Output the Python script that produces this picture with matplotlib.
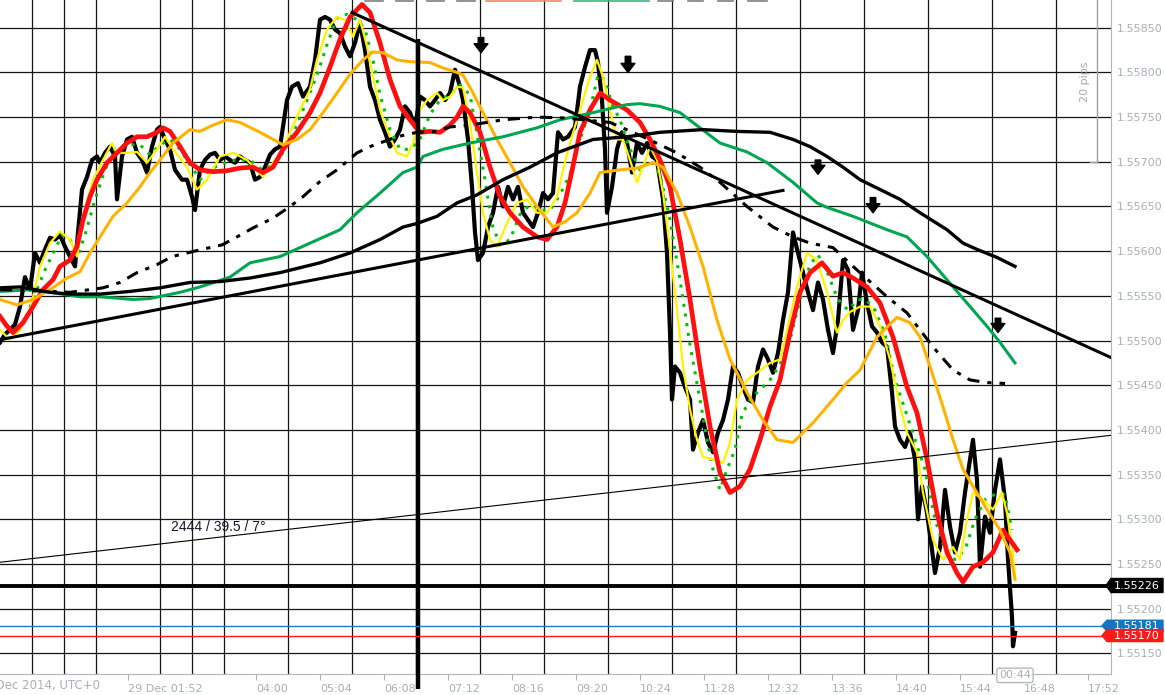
import numpy as np
import matplotlib
matplotlib.use("Agg")
import matplotlib.pyplot as plt
from matplotlib.patches import Polygon
from matplotlib.transforms import IdentityTransform

# time axis: minutes after 28 Dec 2014 23:44 (UTC+0)
close_pts = [(0,1.55498),(5,1.55507),(10,1.55512),(15,1.55518),(20,1.55538),(25,1.55571),(30,1.55557),(35,1.55598),(40,1.55587),(45,1.55602),(50,1.55615),(55,1.55613),(60,1.55618),(65,1.55605),(70,1.55594),(75,1.55583),(78,1.55621),(82,1.55669),(87,1.55683),(92,1.55702),(97,1.55706),(100,1.55699),(105,1.55710),(110,1.55717),(115,1.55706),(117,1.55658),(122,1.55706),(127,1.55725),(132,1.55728),(137,1.55710),(142,1.55702),(147,1.55688),(152,1.55717),(157,1.55736),(160,1.55739),(165,1.55725),(170,1.55714),(175,1.55691),(182,1.55680),(187,1.55680),(192,1.55661),(195,1.55646),(200,1.55691),(205,1.55702),(210,1.55708),(215,1.55710),(220,1.55702),(225,1.55706),(230,1.55702),(235,1.55699),(240,1.55706),(245,1.55702),(250,1.55699),(255,1.55680),(260,1.55683),(265,1.55694),(270,1.55708),(275,1.55714),(280,1.55717),(287,1.55769),(292,1.55784),(298,1.55788),(303,1.55773),(310,1.55784),(315,1.55814),(320,1.55859),(325,1.55862),(330,1.55859),(335,1.55848),(340,1.55844),(345,1.55829),(350,1.55818),(355,1.55833),(360,1.55856),(365,1.55825),(370,1.55784),(375,1.55769),(380,1.55747),(385,1.55733),(390,1.55717),(395,1.55725),(400,1.55736),(405,1.55762),(410,1.55755),(415,1.55739),(420,1.55773),(425,1.55769),(430,1.55762),(435,1.55769),(440,1.55777),(445,1.55769),(450,1.55777),(455,1.55803),(460,1.55784),(463,1.55769),(468,1.55725),(472,1.55672),(475,1.55621),(478,1.55590),(483,1.55598),(488,1.55627),(493,1.55643),(498,1.55672),(503,1.55650),(508,1.55672),(513,1.55658),(518,1.55672),(523,1.55643),(528,1.55635),(533,1.55627),(538,1.55643),(543,1.55665),(548,1.55658),(553,1.55665),(558,1.55733),(563,1.55725),(568,1.55728),(575,1.55739),(580,1.55784),(585,1.55806),(590,1.55825),(595,1.55825),(598,1.55811),(602,1.55769),(605,1.55714),(607,1.55643),(612,1.55672),(617,1.55714),(622,1.55733),(627,1.55721),(632,1.55688),(637,1.55721),(642,1.55710),(647,1.55721),(652,1.55706),(657,1.55702),(660,1.55680),(663,1.55658),(667,1.55598),(670,1.55509),(672,1.55434),(675,1.55471),(680,1.55464),(685,1.55448),(690,1.55434),(693,1.55378),(698,1.55397),(703,1.55411),(708,1.55386),(713,1.55375),(718,1.55397),(723,1.55411),(728,1.55434),(733,1.55471),(738,1.55464),(743,1.55448),(748,1.55434),(753,1.55431),(758,1.55471),(763,1.55490),(768,1.55479),(773,1.55464),(778,1.55486),(783,1.55523),(788,1.55554),(793,1.55621),(798,1.55598),(803,1.55576),(808,1.55554),(813,1.55534),(818,1.55565),(823,1.55546),(828,1.55512),(833,1.55486),(838,1.55523),(843,1.55590),(848,1.55579),(853,1.55512),(858,1.55534),(862,1.55576),(867,1.55542),(872,1.55516),(877,1.55509),(882,1.55498),(887,1.55493),(892,1.55442),(895,1.55404),(900,1.55389),(905,1.55381),(910,1.55397),(915,1.55367),(918,1.55300),(922,1.55337),(927,1.55307),(932,1.55266),(935,1.55240),(940,1.55269),(945,1.55333),(950,1.55292),(955,1.55263),(960,1.55285),(965,1.55330),(970,1.55367),(973,1.55389),(977,1.55344),(980,1.55247),(985,1.55303),(990,1.55285),(995,1.55333),(1000,1.55367),(1005,1.55322),(1008,1.55255),(1012,1.55191),(1013,1.55158),(1015,1.55173)]

yellow_pts = [(0,1.55512),(10,1.55501),(20,1.55512),(30,1.55534),(40,1.55583),(50,1.55609),(60,1.55622),(70,1.55613),(77,1.55594),(83,1.55639),(93,1.55680),(103,1.55702),(112,1.55721),(117,1.55710),(127,1.55710),(137,1.55711),(147,1.55699),(157,1.55714),(165,1.55728),(173,1.55714),(187,1.55694),(197,1.55669),(207,1.55680),(220,1.55706),(233,1.55710),(247,1.55702),(263,1.55683),(273,1.55699),(280,1.55708),(290,1.55733),(300,1.55758),(310,1.55781),(317,1.55814),(327,1.55848),(337,1.55862),(345,1.55859),(353,1.55840),(360,1.55859),(367,1.55829),(373,1.55795),(380,1.55758),(387,1.55736),(397,1.55710),(407,1.55706),(413,1.55721),(420,1.55758),(427,1.55769),(437,1.55777),(443,1.55769),(450,1.55773),(457,1.55784),(463,1.55783),(470,1.55744),(477,1.55688),(483,1.55643),(490,1.55613),(497,1.55605),(503,1.55621),(510,1.55639),(517,1.55654),(527,1.55658),(537,1.55643),(547,1.55643),(557,1.55661),(563,1.55691),(570,1.55721),(580,1.55758),(590,1.55795),(597,1.55814),(603,1.55795),(610,1.55758),(617,1.55725),(623,1.55725),(630,1.55702),(637,1.55677),(643,1.55694),(650,1.55717),(657,1.55702),(663,1.55665),(670,1.55602),(677,1.55534),(683,1.55471),(690,1.55423),(697,1.55389),(703,1.55370),(713,1.55367),(723,1.55363),(730,1.55386),(737,1.55434),(747,1.55456),(757,1.55464),(770,1.55475),(780,1.55479),(787,1.55512),(797,1.55560),(807,1.55598),(817,1.55590),(827,1.55554),(837,1.55509),(843,1.55523),(850,1.55532),(860,1.55538),(870,1.55538),(880,1.55516),(890,1.55479),(900,1.55426),(907,1.55397),(917,1.55375),(923,1.55330),(933,1.55277),(943,1.55255),(953,1.55269),(960,1.55255),(967,1.55300),(973,1.55330),(983,1.55322),(993,1.55311),(1002,1.55330),(1007,1.55307),(1012,1.55269),(1015,1.55236)]

green_dot_pts = [(5,1.55518),(15,1.55512),(25,1.55523),(35,1.55552),(45,1.55579),(55,1.55602),(62,1.55618),(70,1.55613),(78,1.55596),(85,1.55618),(95,1.55658),(105,1.55691),(115,1.55714),(125,1.55719),(140,1.55719),(150,1.55708),(160,1.55719),(170,1.55725),(180,1.55714),(190,1.55697),(200,1.55680),(210,1.55691),(220,1.55697),(235,1.55702),(250,1.55702),(262,1.55691),(275,1.55697),(285,1.55714),(297,1.55741),(307,1.55769),(317,1.55797),(327,1.55831),(337,1.55861),(347,1.55865),(357,1.55859),(365,1.55848),(373,1.55814),(380,1.55775),(390,1.55736),(400,1.55714),(410,1.55714),(420,1.55725),(430,1.55753),(440,1.55769),(450,1.55775),(460,1.55786),(470,1.55775),(478,1.55725),(485,1.55680),(492,1.55630),(500,1.55607),(510,1.55613),(520,1.55641),(530,1.55652),(540,1.55646),(550,1.55646),(560,1.55663),(570,1.55686),(580,1.55725),(590,1.55758),(598,1.55797),(605,1.55792),(612,1.55764),(620,1.55747),(630,1.55714),(640,1.55691),(650,1.55702),(660,1.55686),(670,1.55635),(680,1.55568),(690,1.55495),(700,1.55434),(707,1.55389),(713,1.55356),(720,1.55333),(727,1.55356),(735,1.55378),(742,1.55417),(750,1.55434),(760,1.55445),(770,1.55456),(780,1.55473),(790,1.55501),(800,1.55546),(810,1.55585),(818,1.55596),(828,1.55574),(838,1.55546),(848,1.55534),(858,1.55546),(866,1.55546),(875,1.55534),(885,1.55507),(895,1.55456),(905,1.55423),(915,1.55389),(925,1.55356),(935,1.55300),(945,1.55266),(955,1.55255),(965,1.55266),(975,1.55300),(985,1.55322),(995,1.55328),(1005,1.55328),(1012,1.55288)]

red_pts = [(0,1.55527),(7,1.55516),(13,1.55509),(23,1.55520),(33,1.55538),(43,1.55557),(53,1.55568),(60,1.55583),(70,1.55590),(77,1.55605),(83,1.55635),(90,1.55661),(97,1.55680),(107,1.55699),(117,1.55710),(127,1.55721),(137,1.55728),(147,1.55728),(157,1.55733),(163,1.55738),(170,1.55734),(180,1.55717),(190,1.55699),(200,1.55691),(213,1.55689),(227,1.55690),(240,1.55693),(253,1.55694),(263,1.55688),(273,1.55694),(283,1.55714),(297,1.55733),(310,1.55755),(320,1.55777),(330,1.55806),(340,1.55837),(350,1.55862),(362,1.55876),(370,1.55867),(380,1.55833),(390,1.55792),(400,1.55762),(410,1.55747),(420,1.55733),(430,1.55734),(440,1.55733),(450,1.55741),(457,1.55750),(463,1.55762),(470,1.55755),(480,1.55733),(490,1.55694),(500,1.55661),(510,1.55643),(523,1.55627),(537,1.55616),(547,1.55613),(557,1.55627),(565,1.55654),(572,1.55690),(580,1.55733),(590,1.55758),(600,1.55777),(610,1.55769),(627,1.55758),(640,1.55744),(650,1.55725),(660,1.55702),(670,1.55672),(680,1.55613),(690,1.55546),(700,1.55471),(710,1.55404),(720,1.55352),(730,1.55330),(740,1.55337),(750,1.55356),(760,1.55389),(770,1.55426),(780,1.55456),(790,1.55509),(800,1.55554),(810,1.55576),(822,1.55587),(833,1.55572),(843,1.55576),(853,1.55570),(867,1.55560),(880,1.55542),(893,1.55504),(907,1.55448),(917,1.55419),(927,1.55367),(937,1.55307),(947,1.55263),(957,1.55240),(963,1.55230),(973,1.55247),(983,1.55252),(993,1.55263),(1003,1.55288),(1012,1.55274),(1017,1.55266)]

orange_pts = [(0,1.55546),(17,1.55540),(33,1.55546),(50,1.55557),(67,1.55570),(80,1.55577),(90,1.55598),(100,1.55616),(113,1.55639),(127,1.55654),(140,1.55672),(150,1.55688),(160,1.55702),(173,1.55721),(190,1.55736),(200,1.55734),(213,1.55741),(227,1.55747),(240,1.55744),(260,1.55733),(283,1.55719),(297,1.55725),(310,1.55736),(323,1.55755),(337,1.55777),(350,1.55798),(363,1.55814),(373,1.55823),(383,1.55822),(397,1.55814),(410,1.55812),(430,1.55811),(443,1.55805),(457,1.55800),(463,1.55797),(473,1.55777),(483,1.55755),(497,1.55725),(510,1.55699),(523,1.55672),(537,1.55650),(553,1.55627),(565,1.55633),(577,1.55643),(590,1.55665),(600,1.55688),(620,1.55691),(637,1.55693),(653,1.55699),(663,1.55694),(677,1.55665),(690,1.55627),(703,1.55583),(717,1.55523),(730,1.55479),(747,1.55442),(763,1.55411),(777,1.55389),(793,1.55386),(813,1.55408),(833,1.55434),(847,1.55453),(860,1.55467),(877,1.55504),(897,1.55526),(910,1.55520),(920,1.55504),(930,1.55471),(943,1.55426),(953,1.55389),(963,1.55356),(973,1.55337),(987,1.55311),(1000,1.55288),(1010,1.55263),(1015,1.55233)]

green_slow_pts = [(0,1.55555),(33,1.55557),(50,1.55554),(80,1.55549),(100,1.55549),(133,1.55546),(150,1.55547),(180,1.55554),(200,1.55560),(230,1.55571),(250,1.55587),(280,1.55594),(310,1.55609),(340,1.55624),(357,1.55643),(380,1.55665),(403,1.55688),(417,1.55694),(423,1.55706),(443,1.55714),(470,1.55721),(503,1.55728),(537,1.55738),(560,1.55747),(593,1.55755),(627,1.55764),(640,1.55765),(660,1.55762),(680,1.55755),(700,1.55738),(720,1.55721),(747,1.55711),(767,1.55699),(793,1.55677),(817,1.55654),(827,1.55649),(853,1.55639),(887,1.55624),(907,1.55616),(927,1.55594),(947,1.55568),(967,1.55542),(987,1.55516),(1000,1.55498),(1015,1.55475)]

black_slow_pts = [(0,1.55559),(20,1.55560),(50,1.55554),(70,1.55552),(100,1.55552),(130,1.55555),(160,1.55559),(190,1.55565),(220,1.55566),(250,1.55570),(280,1.55576),(320,1.55587),(350,1.55598),(380,1.55613),(403,1.55627),(417,1.55631),(437,1.55639),(457,1.55654),(477,1.55663),(503,1.55680),(530,1.55694),(557,1.55710),(593,1.55725),(627,1.55728),(660,1.55733),(703,1.55736),(737,1.55734),(770,1.55733),(793,1.55725),(810,1.55717),(827,1.55706),(843,1.55694),(860,1.55680),(880,1.55669),(900,1.55658),(920,1.55643),(947,1.55624),(963,1.55609),(977,1.55602),(997,1.55593),(1015,1.55583)]

dashdot_pts = [(0,1.55557),(50,1.55555),(70,1.55554),(103,1.55559),(120,1.55565),(137,1.55576),(157,1.55585),(172,1.55594),(187,1.55598),(202,1.55602),(222,1.55607),(237,1.55616),(253,1.55626),(273,1.55637),(290,1.55650),(303,1.55661),(320,1.55678),(337,1.55691),(357,1.55710),(370,1.55717),(397,1.55728),(417,1.55733),(437,1.55734),(450,1.55739),(470,1.55741),(503,1.55747),(537,1.55750),(565,1.55749),(610,1.55744),(643,1.55728),(677,1.55710),(700,1.55694),(720,1.55677),(747,1.55650),(773,1.55627),(793,1.55616),(810,1.55609),(833,1.55604),(853,1.55583),(887,1.55549),(907,1.55531),(933,1.55493),(953,1.55467),(970,1.55456),(987,1.55453),(1005,1.55452)]

# drawn trend lines: (time, price) end points
trend_support = [(0, 1.55501), (783, 1.55668)]
trend_resist = [(352, 1.55867), (1111, 1.55481)]
trend_thin = [(0, 1.55252), (1111, 1.55394)]
vline_time = 418
vline_top = 1.55837
level_black = 1.55226
level_blue = 1.55181
level_red = 1.55170
angle_label = "2444 / 39.5 / 7°"
angle_label_pos = (171, 1.55292)

arrow_times = [481, 628, 818, 873, 998]
arrow_tops = [1.55839, 1.55818, 1.55702, 1.55660, 1.55525]
arrow_bottoms = [1.55822, 1.55800, 1.55686, 1.55643, 1.55509]

tick_minutes = [128, 256, 320, 384, 448, 512, 576, 640, 704, 768, 832, 896, 960, 1024, 1088]
tick_labels = ["29 Dec 01:52", "04:00", "05:04", "06:08", "07:12", "08:16", "09:20",
               "10:24", "11:28", "12:32", "13:36", "14:40", "15:44", "16:48", "17:52"]
price_ticks = [1.55150, 1.55200, 1.55250, 1.55300, 1.55350, 1.55400, 1.55450, 1.55500,
               1.55550, 1.55600, 1.55650, 1.55700, 1.55750, 1.55800, 1.55850]
countdown = "00:44"

W, H = 1165, 695
fig = plt.figure(figsize=(W / 100, H / 100), dpi=100)
ax = fig.add_axes([0, 21 / H, 1111 / W, 1 - 21 / H])
ax.set_xlim(0, 1111)
ax.set_ylim(1.55127, 1.55881)

GREY = "#A9AEB8"

def xy(pts):
    a = np.array(pts, dtype=float)
    return a[:, 0], a[:, 1]

# grid
ax.set_xticks(np.arange(32, 1111, 32), minor=True)
ax.set_xticks(tick_minutes)
ax.set_xticklabels(tick_labels)
ax.set_yticks(price_ticks)
ax.set_yticklabels([f"{p:.5f}" for p in price_ticks])
ax.grid(which="minor", axis="x", color="#151515", lw=0.9, zorder=0)
ax.grid(which="major", axis="y", color="#151515", lw=0.9, zorder=0)
ax.yaxis.tick_right()
ax.tick_params(axis="y", length=0, pad=4, labelsize=8, labelcolor=GREY)
ax.tick_params(axis="x", which="major", length=4, color=GREY, pad=3, labelsize=8, labelcolor=GREY)
ax.tick_params(axis="x", which="minor", length=0)
for lab in ax.get_xticklabels():
    lab.set_horizontalalignment("left")
for s in ["left", "top"]:
    ax.spines[s].set_visible(False)
ax.spines["right"].set_color("#B4B4B4")
ax.spines["bottom"].set_color("#B4B4B4")

# price and averages
t, p = xy(close_pts)
ax.plot(t, p, color="black", lw=3.0, zorder=2)
t, p = xy(green_dot_pts)
ax.plot(t, p, color="#00C400", lw=2.2, ls=(0, (1, 2.2)), zorder=3)
t, p = xy(yellow_pts)
ax.plot(t, p, color="#FFF200", lw=1.6, zorder=4)
t, p = xy(red_pts)
ax.plot(t, p, color="#FF1010", lw=3.4, zorder=5)
t, p = xy(orange_pts)
ax.plot(t, p, color="#FFB300", lw=2.2, zorder=5)
t, p = xy(green_slow_pts)
ax.plot(t, p, color="#00A651", lw=2.2, zorder=5)
t, p = xy(black_slow_pts)
ax.plot(t, p, color="black", lw=2.4, zorder=5)
t, p = xy(dashdot_pts)
ax.plot(t, p, color="black", lw=2.2, ls=(0, (4, 2.6, 1.4, 2.6)), zorder=5)

# trend lines
for seg, lw in [(trend_support, 2.2), (trend_resist, 2.2), (trend_thin, 0.8)]:
    t, p = xy(seg)
    ax.plot(t, p, color="black", lw=lw, zorder=6)
ax.plot([vline_time, vline_time], [vline_top, 1.55110], color="black", lw=3.2,
        zorder=6, clip_on=False, solid_capstyle="butt")
ax.axhline(level_black, color="black", lw=2.8, zorder=6)
ax.axhline(level_blue, color="#1C7CC6", lw=1.0, zorder=6)
ax.axhline(level_red, color="#FF1A1A", lw=1.0, zorder=6)

ax.text(angle_label_pos[0], angle_label_pos[1], angle_label, fontsize=10,
        family="Liberation Sans", color="#15152A", va="center", ha="left", zorder=7)

for at, top, bot in zip(arrow_times, arrow_tops, arrow_bottoms):
    ax.annotate("", xy=(at, bot), xytext=(at, top),
                arrowprops=dict(arrowstyle="simple,head_width=1.0,head_length=0.65,tail_width=0.4",
                                fc="black", ec="black", shrinkA=0, shrinkB=0, mutation_scale=10),
                zorder=7)

# 20 pips ruler
ax.plot([1097, 1097], [1.55700, 1.55881], color="#A0A0A0", lw=1.0, zorder=7, clip_on=False)
ax.plot([1090, 1097], [1.55700, 1.55700], color="#A0A0A0", lw=1.0, zorder=7)
ax.text(1085, 1.55790, "20 pips", rotation=90, fontsize=8, color="#A8A8A8",
        ha="center", va="center", zorder=7)

# clipped legend remnants on the top edge
for x0, x1, c in [(365, 383, "#808080"), (396, 413, "#808080"), (427, 444, "#808080"),
                  (457, 475, "#808080"), (486, 561, "#F08A6A"), (574, 649, "#3CB878"),
                  (658, 673, "#808080"), (688, 703, "#808080"), (718, 733, "#808080"),
                  (748, 767, "#808080")]:
    ax.plot([x0, x1], [0.999, 0.999], transform=ax.get_xaxis_transform(), color=c,
            lw=1.2, zorder=8, clip_on=False)

# first (clipped) date label
fig.text(100 / W, 9 / H, "28 Dec 2014, UTC+0", fontsize=8.5, color=GREY, ha="right", va="center")

# countdown bubble
ax.text(1015, -0.002, countdown, transform=ax.get_xaxis_transform(), fontsize=8, color=GREY,
        ha="center", va="center", zorder=9, clip_on=False,
        bbox=dict(boxstyle="round,pad=0.2", fc="white", ec="#B8B8B8", lw=1))

# price tags on the right scale
def price_tag(price, text, color, tip_px, h):
    yc = ax.transData.transform((0, price))[1]
    pts = [[tip_px, yc], [tip_px + 5, yc + h / 2], [1163, yc + h / 2], [1163, yc - h / 2],
           [tip_px + 5, yc - h / 2]]
    fig.add_artist(Polygon(pts, closed=True, transform=IdentityTransform(), fc=color,
                           ec=color, zorder=20))
    fig.text(1137, yc, text, transform=IdentityTransform(), fontsize=8, color="white",
             ha="center", va="center", zorder=21)

price_tag(level_black, f"{level_black:.5f}", "black", 1106, 14)
price_tag(level_blue, f"{level_blue:.5f}", "#1574C0", 1102, 11)
price_tag(level_red, f"{level_red:.5f}", "#FF1A1A", 1102, 12)

fig.savefig("out.png", dpi=100)
